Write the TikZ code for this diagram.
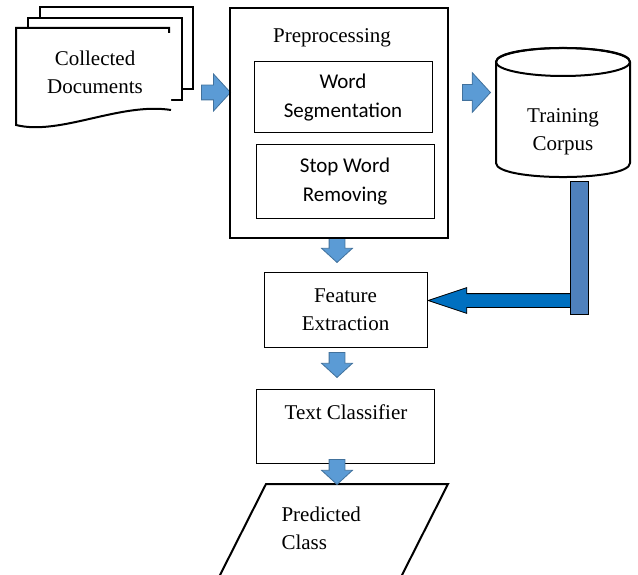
\documentclass[tikz,border=0pt]{standalone}
\usepackage{fontspec}
\setmainfont{Liberation Serif}
\newfontfamily\calibri{Carlito}
\usetikzlibrary{shapes.arrows, calc}
\definecolor{flowblue}{RGB}{91,155,213}
\definecolor{flowedge}{RGB}{65,113,156}
\definecolor{barblue}{RGB}{79,129,189}
\definecolor{deepblue}{RGB}{0,112,192}

\begin{document}
\begin{tikzpicture}[x=1pt, y=-1pt,
  every node/.style={font=\fontsize{21}{28}\selectfont},
  box/.style={draw, line width=1pt, inner sep=0pt},
  heavy/.style={draw, line width=2pt},
  inbox/.style={box, minimum width=178pt, align=center, font=\calibri\fontsize{21}{29}\selectfont},
  blockarr/.style={single arrow, anchor=tip, fill=flowblue, draw=flowedge, line width=0.8pt, inner xsep=0pt,
    single arrow tip angle=95},
  rightarr/.style={blockarr, minimum height=29pt, inner ysep=7pt, single arrow head extend=11pt},
  downarr/.style={blockarr, rotate=-90, minimum height=25pt, inner ysep=7.5pt, single arrow head extend=7.5pt}]
  \useasboundingbox (0,0) rectangle (638,575);

  % stacked documents
  \draw[heavy, fill=white] (40,7) rectangle (193,89);
  \draw[heavy, fill=white] (28,18) rectangle (182,100);
  \fill[white] (16,28) -- (171,28) -- (171,110) .. controls (120,102) and (60,136) .. (16,125) -- cycle;
  \draw[heavy] (169,33) -- (169,28) -- (16,28) -- (16,125) .. controls (60,136) and (120,102) .. (171,110);
  \node[align=center] (cdoc) at (95,72) {Collected\\Documents};

  \node[rightarr] (a1) at (231,92.5) {};
  \node[downarr] (a3) at (337,263) {};

  \node[heavy, minimum width=218pt, minimum height=230pt, inner sep=0pt] (pre) at (339,123) {};
  \node (pretitle) at (332,38) {Preprocessing};
  \node[inbox, minimum height=71pt] (seg) at (343,97.5) {Word\\Segmentation};
  \node[inbox, minimum height=74pt] (stop) at (345,182) {Stop Word\\Removing};

  % training corpus
  \draw[heavy, fill=white] (496,62) -- (496,163) .. controls (496,181.7) and (630,181.7) .. (630,163)
    -- (630,62) .. controls (630,43.3) and (496,43.3) .. (496,62) -- cycle;
  \draw[heavy] (563,62) ellipse [x radius=67, y radius=14];
  \node[align=center] (corp) at (563,132) {Training\\Corpus};
  \node[rightarr, minimum height=28pt, inner ysep=7.5pt, single arrow head extend=12pt] (a2) at (491,92.5) {};

  \node[blockarr, fill=deepblue, draw=black, rotate=180, minimum height=148pt, inner ysep=6.5pt,
    single arrow head extend=6pt, single arrow tip angle=37] (back) at (427,300.5) {};
  \node[draw, fill=barblue, line width=1pt, minimum width=18pt, minimum height=132pt, inner sep=0pt] (bar) at (579,248) {};

  \node[box, minimum width=163pt, minimum height=74pt, align=center] (feat) at (345.5,310) {Feature\\Extraction};
  \node[downarr] (a4) at (337,378) {};

  \node[box, minimum width=178pt, minimum height=74pt] (cls) at (345,426) {};
  \node (clstxt) at (346,412) {Text Classifier};

  \begin{scope}
    \clip (0,0) rectangle (638,575);
    \draw[heavy] (266,484) -- (448,484) -- (389.4,600) -- (207.4,600) -- cycle;
  \end{scope}
  \node[align=left, anchor=west] (pred) at (278,528) {Predicted\\Class};
  \node[downarr] (a5) at (337,485) {};
\end{tikzpicture}
\end{document}
